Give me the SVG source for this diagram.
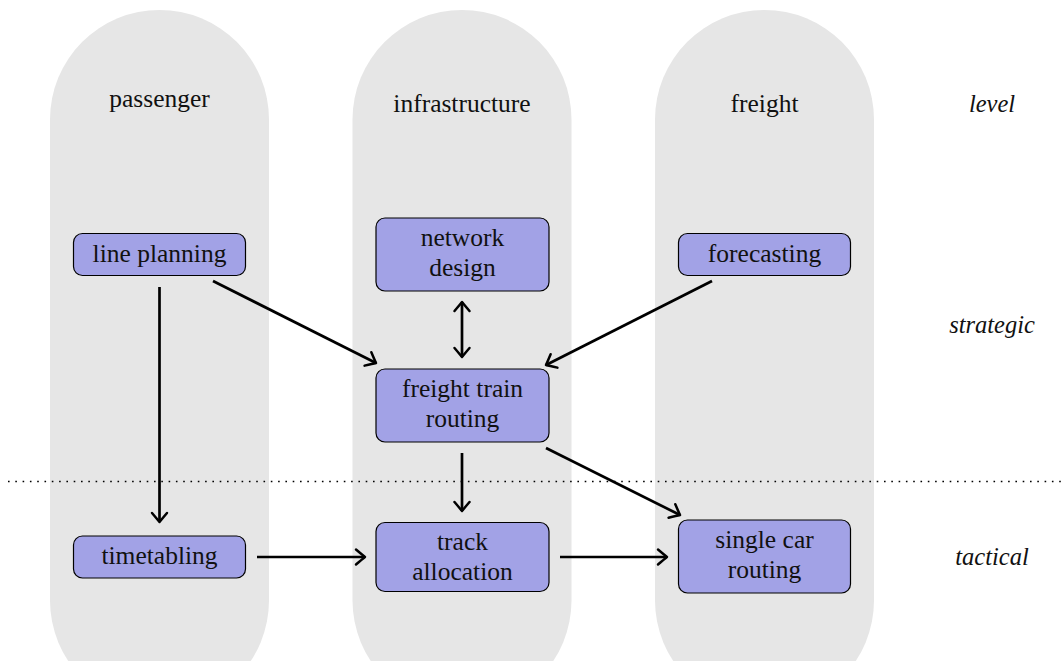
<svg xmlns="http://www.w3.org/2000/svg" width="1062" height="661" viewBox="0 0 1062 661">
  <defs>
    <marker id="arr" viewBox="-12 -10 14 20" markerWidth="14" markerHeight="20" refX="0" refY="0" orient="auto-start-reverse" markerUnits="userSpaceOnUse">
      <path d="M -9 -7.5 Q -2.5 -2 0 0 Q -2.5 2 -9 7.5" fill="none" stroke="#000" stroke-width="2.5" stroke-linecap="round" stroke-linejoin="round"/>
    </marker>
    <style>
      .lane { fill: #e6e6e6; }
      .node rect { fill: #a2a2e6; stroke: #000; stroke-width: 1.2; }
      text { font-size: 25.5px; fill: #111; text-anchor: middle; }
      .lvl { font-style: italic; font-size: 24.5px; }
      .conn line { stroke: #000; stroke-width: 2.7; marker-end: url(#arr); }
      .dots { stroke: #000; stroke-width: 1.6; stroke-dasharray: 1.6 5.7; }
    </style>
  </defs>
  <rect width="1062" height="661" fill="#fff"/>
  <g id="lanes">
    <rect class="lane" x="50" y="10" width="219" height="700" rx="109.5" ry="109.5"/>
    <rect class="lane" x="352.5" y="10" width="219" height="700" rx="109.5" ry="109.5"/>
    <rect class="lane" x="655" y="10" width="219" height="700" rx="109.5" ry="109.5"/>
  </g>
  <g font-family="'Liberation Serif', 'Times New Roman', serif">
  <g id="lane-titles">
    <text x="159.5" y="107">passenger</text>
    <text x="462" y="112">infrastructure</text>
    <text x="764.5" y="112">freight</text>
  </g>
  <g id="levels">
    <text class="lvl" x="992" y="112">level</text>
    <text class="lvl" x="992" y="333">strategic</text>
    <text class="lvl" x="992" y="565">tactical</text>
  </g>
  <line id="separator" class="dots" x1="8" y1="481.5" x2="1062" y2="481.5"/>
  <g id="line-planning" class="node">
    <rect x="73.5" y="233.5" width="172" height="42" rx="9"/>
    <text x="159.5" y="262">line planning</text>
  </g>
  <g id="network-design" class="node">
    <rect x="376" y="218" width="173" height="73" rx="9"/>
    <text x="462.5" y="246">network</text>
    <text x="462.5" y="276">design</text>
  </g>
  <g id="forecasting" class="node">
    <rect x="678.5" y="233.5" width="172" height="42" rx="9"/>
    <text x="764.5" y="262">forecasting</text>
  </g>
  <g id="freight-train-routing" class="node">
    <rect x="376" y="369" width="173" height="73" rx="9"/>
    <text x="462.5" y="397">freight train</text>
    <text x="462.5" y="427">routing</text>
  </g>
  <g id="timetabling" class="node">
    <rect x="73.5" y="536" width="172" height="42" rx="9"/>
    <text x="159.5" y="564">timetabling</text>
  </g>
  <g id="track-allocation" class="node">
    <rect x="376" y="522.5" width="173" height="69" rx="9"/>
    <text x="462.5" y="550">track</text>
    <text x="462.5" y="580">allocation</text>
  </g>
  <g id="single-car-routing" class="node">
    <rect x="678.5" y="520" width="172" height="73" rx="9"/>
    <text x="764.5" y="548">single car</text>
    <text x="764.5" y="578">routing</text>
  </g>
  </g>
  <g id="connectors" class="conn">
    <line x1="159.5" y1="287" x2="159.5" y2="522"/>
    <line x1="213" y1="281" x2="376" y2="363"/>
    <line x1="462" y1="302" x2="462" y2="357" marker-start="url(#arr)"/>
    <line x1="712" y1="281" x2="546" y2="365"/>
    <line x1="462" y1="453" x2="462" y2="511"/>
    <line x1="546" y1="448" x2="680" y2="515"/>
    <line x1="257" y1="557" x2="365" y2="557"/>
    <line x1="560" y1="557" x2="667" y2="557"/>
  </g>
</svg>
